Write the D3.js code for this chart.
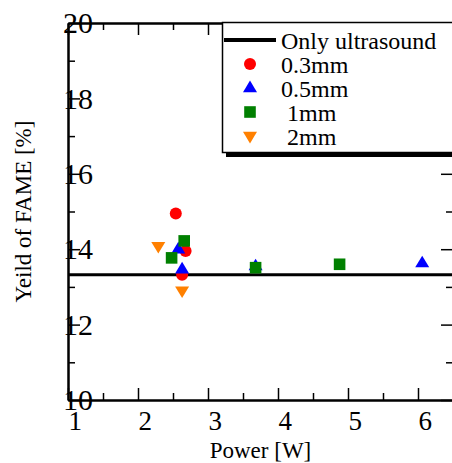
<html lang="en">
<head>
<meta charset="utf-8">
<title>Yield of FAME vs Power</title>
<script src="https://d3js.org/d3.v7.min.js"></script>
<style type="text/css">
  body { margin: 0; background: #fff; }
  text { font-family: "Liberation Serif", "Times New Roman", serif; fill: #000; }
</style>
</head>
<body>
<script type="text/javascript">

// data
var seriesNames = ["0.3mm", "0.5mm", "1mm", "2mm"];
var legendLabels = ["0.3mm", "0.5mm", " 1mm", " 2mm"];
var seriesColors = ["#ff0000", "#0000ff", "#008000", "#ff8000"];
var seriesShapes = ["circle", "triangle", "square", "triangleDown"];

var power03 = [2.54, 2.68, 2.63];
var yield03 = [14.95, 13.95, 13.32];
var power05 = [2.575, 2.63, 3.68, 6.06];
var yield05 = [14.0, 13.47, 13.55, 13.63];
var power1 = [2.48, 2.66, 3.68, 4.88];
var yield1 = [13.77, 14.22, 13.51, 13.6];
var power2 = [2.29, 2.63];
var yield2 = [14.08, 12.9];

var onlyUltrasound = 13.32;

var xTicks = [1, 2, 3, 4, 5, 6];
var xMinor = [1.5, 2.5, 3.5, 4.5, 5.5];
var yTicks = [10, 12, 14, 16, 18, 20];
var yMinor = [11, 13, 15, 17, 19];

var powers = [power03, power05, power1, power2];
var yields = [yield03, yield05, yield1, yield2];

var w = 452, h = 463;
var plotL = 68, plotR = 453, plotT = 23, plotB = 400;

var svg = d3.select("body").append("svg")
  .attr("width", w)
  .attr("height", h);

var xScale = d3.scaleLinear().domain([1, 6.5]).range([plotL, plotR]);
var yScale = d3.scaleLinear().domain([10, 20]).range([plotB, plotT]);

// marker shapes
function markerPath(shape) {
  var p = d3.path();
  if (shape == "circle") {
    p.arc(0, 0, 6, 0, 2 * Math.PI);
  } else if (shape == "square") {
    p.rect(-5.8, -5.8, 11.6, 11.6);
  } else if (shape == "triangle") {
    p.moveTo(0, -7.4); p.lineTo(7, 4.2); p.lineTo(-7, 4.2); p.closePath();
  } else {
    p.moveTo(0, 7.4); p.lineTo(7, -4.2); p.lineTo(-7, -4.2); p.closePath();
  }
  return p.toString();
}

// axes (ticks point inward)
function styleAxis(g) {
  g.select(".domain").attr("stroke-width", 2);
  g.selectAll(".tick line").attr("stroke-width", 1.5);
}

var xBottom = svg.append("g")
  .attr("transform", "translate(0," + plotB + ")")
  .call(d3.axisBottom(xScale).tickValues(xTicks).tickSizeInner(-12).tickSizeOuter(0).tickPadding(11).tickFormat(d3.format("d")));
xBottom.attr("font-family", null).attr("font-size", null);
xBottom.selectAll("text")
  .attr("text-anchor", "start")
  .attr("font-size", "27px");
styleAxis(xBottom);
svg.append("g")
  .attr("transform", "translate(0," + plotB + ")")
  .call(d3.axisBottom(xScale).tickValues(xMinor).tickSizeInner(-7).tickSizeOuter(0).tickFormat(""))
  .call(styleAxis);

svg.append("g")
  .attr("transform", "translate(0," + plotT + ")")
  .call(d3.axisTop(xScale).tickValues(xTicks).tickSizeInner(-12).tickSizeOuter(0).tickFormat(""))
  .call(styleAxis);
svg.append("g")
  .attr("transform", "translate(0," + plotT + ")")
  .call(d3.axisTop(xScale).tickValues(xMinor).tickSizeInner(-7).tickSizeOuter(0).tickFormat(""))
  .call(styleAxis);

var yLeft = svg.append("g")
  .attr("transform", "translate(" + plotL + ",0)")
  .call(d3.axisLeft(yScale).tickValues(yTicks).tickSizeInner(-12).tickSizeOuter(0).tickFormat(d3.format("d")));
yLeft.attr("font-family", null).attr("font-size", null);
yLeft.selectAll("text")
  .attr("x", -5)
  .attr("text-anchor", "start")
  .attr("font-size", "30px");
styleAxis(yLeft);
svg.append("g")
  .attr("transform", "translate(" + plotL + ",0)")
  .call(d3.axisLeft(yScale).tickValues(yMinor).tickSizeInner(-7).tickSizeOuter(0).tickFormat(""))
  .call(styleAxis);

svg.append("g")
  .attr("transform", "translate(" + plotR + ",0)")
  .call(d3.axisRight(yScale).tickValues(yTicks).tickSizeInner(-12).tickSizeOuter(0).tickFormat(""))
  .call(styleAxis);
svg.append("g")
  .attr("transform", "translate(" + plotR + ",0)")
  .call(d3.axisRight(yScale).tickValues(yMinor).tickSizeInner(-7).tickSizeOuter(0).tickFormat(""))
  .call(styleAxis);

// axis titles
svg.append("text")
  .attr("x", (plotL + plotR) / 2)
  .attr("y", 458)
  .attr("text-anchor", "middle")
  .attr("font-size", "23px")
  .text("Power [W]");

svg.append("text")
  .attr("transform", "translate(31," + ((plotT + plotB) / 2) + ") rotate(-90)")
  .attr("text-anchor", "middle")
  .attr("font-size", "23px")
  .text("Yeild of FAME [%]");

// only ultrasound reference line
svg.append("line")
  .attr("x1", xScale(1))
  .attr("x2", xScale(6.5))
  .attr("y1", yScale(onlyUltrasound))
  .attr("y2", yScale(onlyUltrasound))
  .attr("stroke", "#000")
  .attr("stroke-width", 3);

// points
seriesNames.forEach(function(name, i) {
  var pts = powers[i].map(function(p, j) { return [p, yields[i][j]]; });
  svg.append("g")
    .selectAll("path")
    .data(pts)
    .enter()
    .append("path")
    .attr("d", markerPath(seriesShapes[i]))
    .attr("transform", function(d) { return "translate(" + xScale(d[0]) + "," + yScale(d[1]) + ")"; })
    .attr("fill", seriesColors[i]);
});

// legend
var lg = svg.append("g");
lg.append("rect")
  .attr("x", 226).attr("y", 27)
  .attr("width", 240).attr("height", 130)
  .attr("fill", "#000");
lg.append("rect")
  .attr("x", 222.5).attr("y", 22.5)
  .attr("width", 240).attr("height", 130)
  .attr("fill", "#fff")
  .attr("stroke", "#000")
  .attr("stroke-width", 1.5);

lg.append("line")
  .attr("x1", 224).attr("x2", 276)
  .attr("y1", 40).attr("y2", 40)
  .attr("stroke", "#000")
  .attr("stroke-width", 4);
lg.append("text")
  .attr("x", 281).attr("y", 49)
  .attr("font-size", "24px")
  .text("Only ultrasound");

legendLabels.forEach(function(label, i) {
  var base = 73 + i * 24;
  lg.append("path")
    .attr("d", markerPath(seriesShapes[i]))
    .attr("transform", "translate(250," + (base - 9) + ")")
    .attr("fill", seriesColors[i]);
  lg.append("text")
    .attr("x", 281).attr("y", base)
    .attr("font-size", "24px")
    .style("white-space", "pre")
    .text(label);
});

</script>
</body>
</html>
